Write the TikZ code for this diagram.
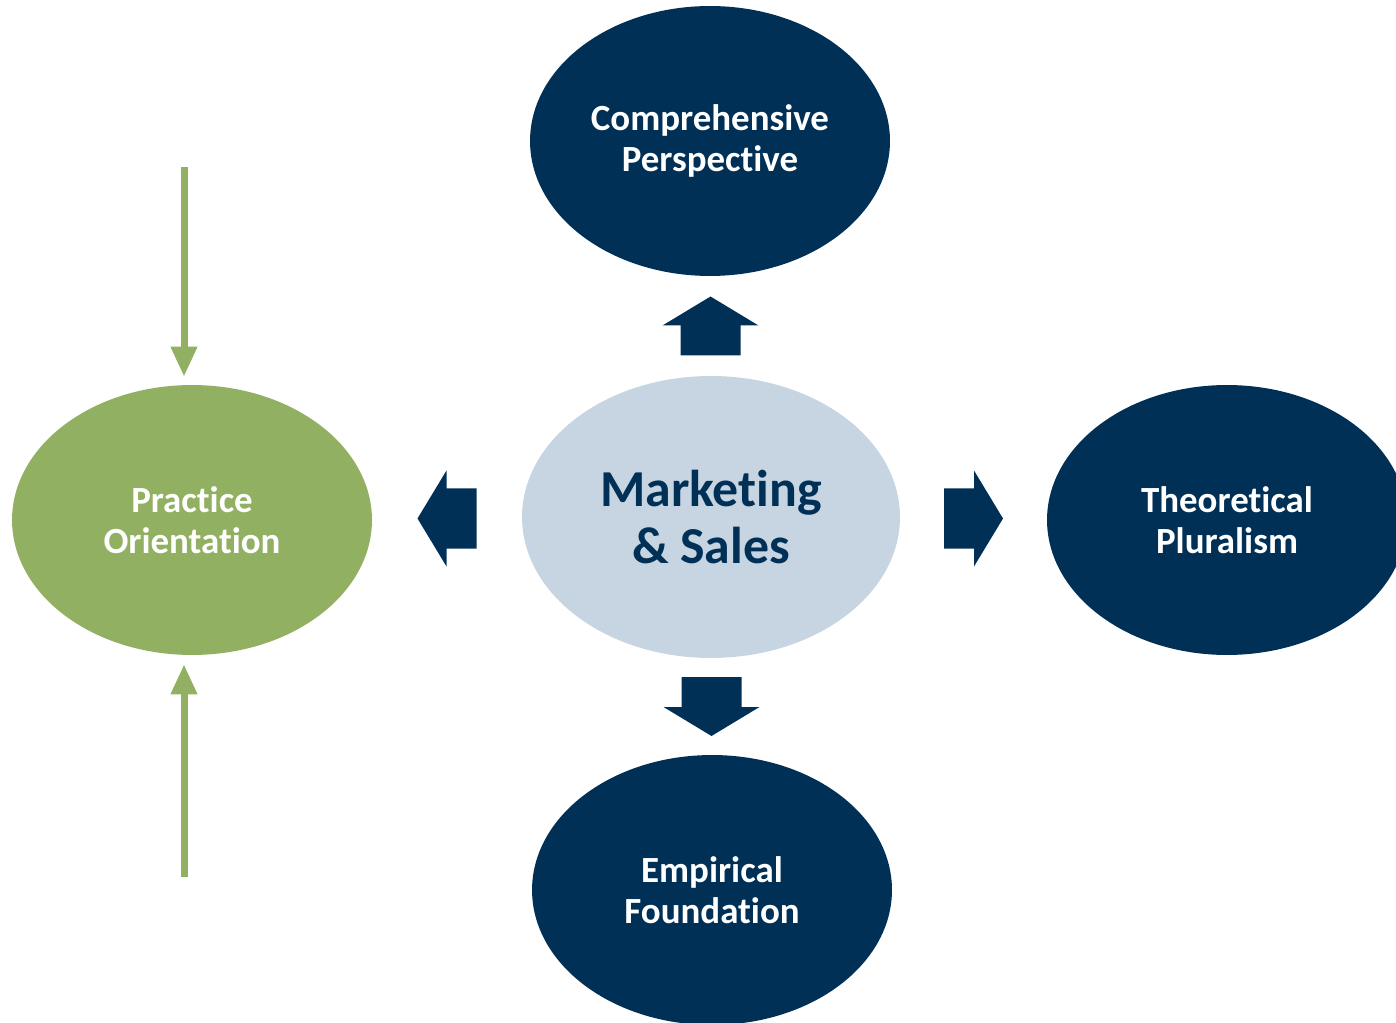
\documentclass[tikz,border=0pt]{standalone}
\usepackage{fontspec}
\setmainfont[Ligatures={NoCommon}]{Carlito}
\usetikzlibrary{arrows.meta, positioning, calc, shapes.geometric}

\definecolor{navy}{RGB}{1,48,87}
\definecolor{paleblue}{RGB}{198,213,225}
\definecolor{leafgreen}{RGB}{146,176,98}

\begin{document}
\begin{tikzpicture}[
    x=0.02cm, y=-0.02cm,
    pillar/.style={ellipse, fill=navy, text=white, inner sep=0pt,
      minimum width=7.2cm, minimum height=5.4cm, align=center,
      font=\bfseries\fontsize{21}{23.5}\selectfont},
    hub/.style={ellipse, fill=paleblue, text=navy, inner sep=0pt,
      minimum width=7.56cm, minimum height=5.64cm, align=center,
      font=\bfseries\fontsize{29.5}{33}\selectfont},
    greenarrow/.style={line width=0.14cm, draw=leafgreen,
      -{Triangle[width=0.5cm,length=0.6cm]}},
    blockarrow/.pic={
      \fill[navy] (-29.5,-30) -- (0.5,-30) -- (0.5,-48) -- (29.5,0)
        -- (0.5,48) -- (0.5,30) -- (-29.5,30) -- cycle;
    }
  ]
  \useasboundingbox (0,0) rectangle (1396,1023);

  % centre and the four pillars
  \node[hub] (core) at (711,517) {Marketing\\\& Sales};
  \node[pillar] (persp) at (710,141) {Comprehensive\\Perspective};
  \node[pillar] (found) at (712,890) {Empirical\\Foundation};
  \node[pillar] (theory) at (1227,520) {Theoretical\\Pluralism};
  \node[pillar, fill=leafgreen] (practice) at (192,520) {Practice\\Orientation};

  % block arrows pointing out of the centre
  \pic[rotate=90] at ($(core.north)!0.5!(persp.south)$) {blockarrow};
  \pic[rotate=-90] at ($(core.south)!0.5!(found.north)$) {blockarrow};
  \pic[rotate=180] at ($(practice.east)!0.5!(core.west)$) {blockarrow};
  \pic at ($(core.east)!0.5!(theory.west)$) {blockarrow};

  % inputs into practice orientation
  \coordinate (intop) at (184,167);
  \coordinate (inbot) at (184,877);
  \draw[greenarrow, shorten >=8*0.02cm] (intop) -- (practice.north -| intop);
  \draw[greenarrow, shorten >=9*0.02cm] (inbot) -- (practice.south -| inbot);
\end{tikzpicture}
\end{document}
